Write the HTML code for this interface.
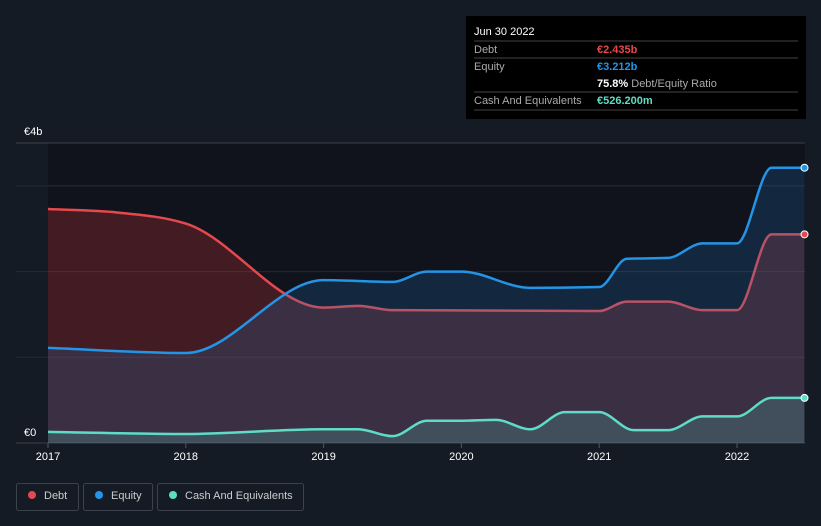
<!DOCTYPE html>
<html><head><meta charset="utf-8"><style>
body{margin:0;background:#151b25;font-family:"Liberation Sans",sans-serif;}
svg{display:block}
</style></head><body>
<svg id="c" width="821" height="526">
<rect x="0" y="0" width="821" height="526" fill="#151b25"/>
<rect x="48" y="143" width="757" height="300" fill="#10131b"/>
<g id="grid"></g>
<g id="areas"></g>
<g id="lines"></g>
<g id="xaxis"></g>
<text x="24" y="135" fill="#fff" font-size="11">€4b</text>
<text x="24" y="436" fill="#fff" font-size="11">€0</text>
<g>
<rect x="466" y="16" width="340" height="103" fill="#000"/>
<text x="474" y="35" fill="#fff" font-size="11">Jun 30 2022</text>
<line x1="474" y1="41" x2="798" y2="41" stroke="#444"/>
<text x="474" y="53" fill="#aaa" font-size="11">Debt</text>
<text x="597" y="53" fill="#e5484d" font-size="11" font-weight="bold">€2.435b</text>
<line x1="474" y1="58" x2="798" y2="58" stroke="#444"/>
<text x="474" y="70" fill="#aaa" font-size="11">Equity</text>
<text x="597" y="70" fill="#2394e6" font-size="11" font-weight="bold">€3.212b</text>
<text x="597" y="87" fill="#fff" font-size="11" font-weight="bold">75.8% <tspan fill="#aaa" font-weight="normal">Debt/Equity Ratio</tspan></text>
<line x1="474" y1="92" x2="798" y2="92" stroke="#444"/>
<text x="474" y="104" fill="#aaa" font-size="11">Cash And Equivalents</text>
<text x="597" y="104" fill="#5fdcc6" font-size="11" font-weight="bold">€526.200m</text>
<line x1="474" y1="110" x2="798" y2="110" stroke="#444"/>
</g>
<g>
<g><rect x="16.5" y="483.5" width="62" height="27" rx="2" fill="none" stroke="#3c414b"/><circle cx="32" cy="495" r="4" fill="#e5484d"/><text x="44" y="499" fill="#ccc" font-size="11">Debt</text></g>
<g><rect x="83.5" y="483.5" width="69" height="27" rx="2" fill="none" stroke="#3c414b"/><circle cx="99" cy="495" r="4" fill="#2394e6"/><text x="111" y="499" fill="#ccc" font-size="11">Equity</text></g>
<g><rect x="157.5" y="483.5" width="146" height="27" rx="2" fill="none" stroke="#3c414b"/><circle cx="173" cy="495" r="4" fill="#5fdcc6"/><text x="185" y="499" fill="#ccc" font-size="11">Cash And Equivalents</text></g>
</g>
</svg>
<script>
const years=[2017,2018,2019,2020,2021,2022];
const debtX=[2017,2017.5,2018,2019,2019.25,2019.5,2021,2021.2,2021.5,2021.75,2022,2022.25,2022.49];
const debtV=[2.73,2.69,2.56,1.58,1.60,1.55,1.54,1.65,1.65,1.55,1.55,2.435,2.435];
const eqX=[2017,2018,2019,2019.5,2019.75,2020,2020.5,2021,2021.2,2021.5,2021.75,2022,2022.25,2022.49];
const eqV=[1.11,1.05,1.90,1.88,2.0,2.0,1.81,1.82,2.15,2.16,2.33,2.33,3.212,3.212];
const cashX=[2017,2018,2019,2019.25,2019.5,2019.75,2020,2020.25,2020.5,2020.75,2021,2021.25,2021.5,2021.75,2022,2022.25,2022.49];
const cashV=[0.13,0.105,0.16,0.16,0.08,0.26,0.26,0.27,0.16,0.36,0.36,0.15,0.15,0.31,0.31,0.526,0.526];
const gridVals=[1,2,3,3.5];
const NS="http://www.w3.org/2000/svg";
const xs=t=>48+(t-2017)*137.8;
const ys=v=>443-v*85.7;
function mk(tag,attrs,parent){const e=document.createElementNS(NS,tag);for(const k in attrs)e.setAttribute(k,attrs[k]);document.getElementById(parent).appendChild(e);return e;}
gridVals.forEach(v=>{const l=mk('line',{x1:16,x2:805,y1:ys(v),y2:ys(v),stroke:v===3.5?'#3a3f48':'#252a33'},'grid');

});
const base=mk('line',{x1:16,x2:805,y1:443,y2:443,stroke:'#3a3f48'},'grid');


years.forEach(y=>{const t=mk('line',{x1:xs(y),x2:xs(y),y1:443,y2:448,stroke:'#555'},'xaxis');


const tx=mk('text',{x:xs(y),y:460,fill:'#fff','font-size':11,'text-anchor':'middle'},'xaxis');tx.textContent=y;

});
function path(X,V){
const px=X.map(xs),py=V.map(ys),n=px.length;
const s=[],m=[];
for(let i=0;i<n-1;i++)s.push((py[i+1]-py[i])/(px[i+1]-px[i]));
for(let i=0;i<n;i++){
if(i===0)m.push(s[0]);else if(i===n-1)m.push(s[n-2]);
else{const a=s[i-1],b=s[i];if(a*b<=0)m.push(0);else{const h0=px[i]-px[i-1],h1=px[i+1]-px[i];const p=(a*h1+b*h0)/(h0+h1);m.push((Math.sign(a)+Math.sign(b))*Math.min(Math.abs(a),Math.abs(b),0.5*Math.abs(p)));}}}
let d='M'+px[0]+','+py[0];
for(let i=1;i<n;i++){const h=(px[i]-px[i-1])/3;d+=' C'+(px[i-1]+h)+','+(py[i-1]+m[i-1]*h)+' '+(px[i]-h)+','+(py[i]-m[i]*h)+' '+px[i]+','+py[i];}
return d;}
function series(X,V,color,fill,name){
const a=mk('path',{d:path(X,V)+' L'+xs(X[X.length-1])+',443 L'+xs(X[0])+',443 Z',fill:fill},'areas');


const l=mk('path',{d:path(X,V),fill:'none',stroke:color,'stroke-width':2.5},'areas');


const c=mk('circle',{cx:xs(X[X.length-1]),cy:ys(V[V.length-1]),r:3.5,fill:color,stroke:'#fff','stroke-width':1},'lines');

}
series(debtX,debtV,'#e5484d','rgba(200,50,55,0.28)','debt');
series(eqX,eqV,'#2394e6','rgba(30,120,190,0.22)','equity');
series(cashX,cashV,'#5fdcc6','rgba(95,220,198,0.18)','cash');
</script>
</body></html>
